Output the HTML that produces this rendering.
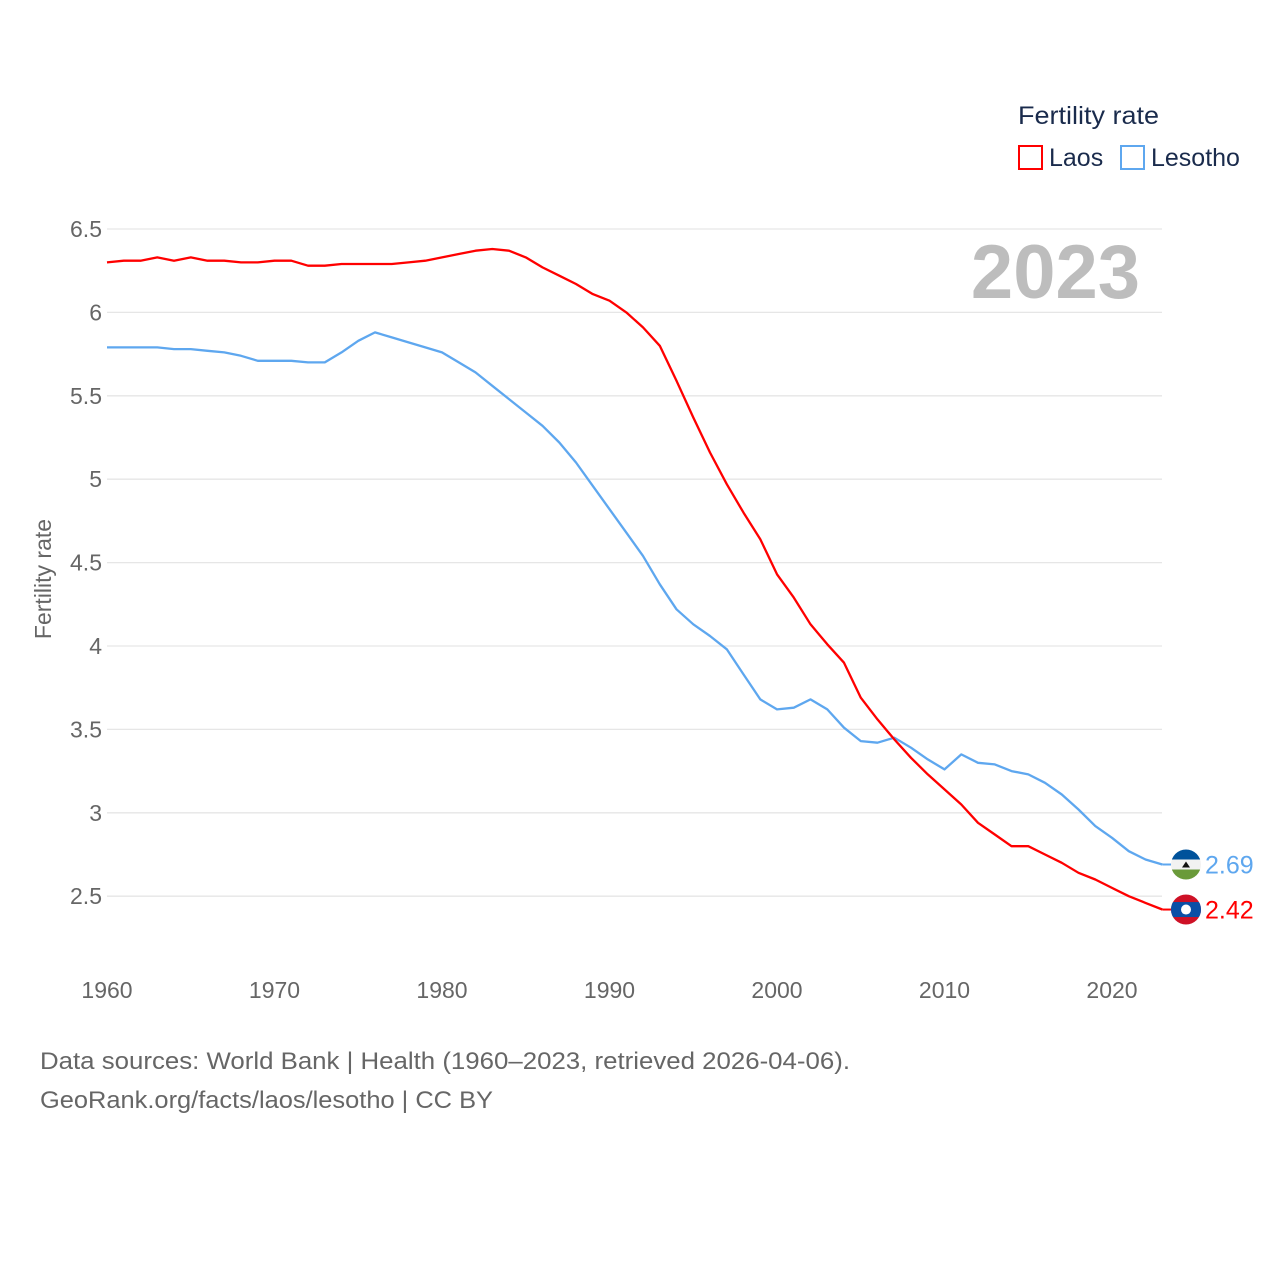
<!DOCTYPE html>
<html><head><meta charset="utf-8"><style>
html,body{margin:0;padding:0;background:#fff;}
body{width:1280px;height:1280px;overflow:hidden;font-family:"Liberation Sans",sans-serif;}
</style></head><body>
<svg id="chart" width="1280" height="1280" xmlns="http://www.w3.org/2000/svg" style="font-family:'Liberation Sans',sans-serif">
<g id="grid"></g>
<g id="yticks"></g>
<g id="xticks"></g>
<text x="51" y="579" transform="rotate(-90 51 579)" text-anchor="middle" font-size="23" fill="#666">Fertility rate</text>
<text x="1140" y="298" text-anchor="end" font-size="76" font-weight="bold" fill="#bdbdbd">2023</text>
<g id="series"></g>
<g>
<text x="1018" y="124" font-size="25" fill="#1a2b4c" textLength="141" lengthAdjust="spacingAndGlyphs">Fertility rate</text>
<g><rect x="1019" y="146" width="23" height="23" fill="none" stroke="#ff0000" stroke-width="2"/><text x="1049" y="166" font-size="25" fill="#1a2b4c">Laos</text></g>
<g><rect x="1121" y="146" width="23" height="23" fill="none" stroke="#5ea7ef" stroke-width="2"/><text x="1151" y="166" font-size="25" fill="#1a2b4c">Lesotho</text></g>
</g>
<text x="40" y="1069" font-size="24" fill="#666" textLength="810" lengthAdjust="spacingAndGlyphs">Data sources: World Bank | Health (1960–2023, retrieved 2026-04-06).</text>
<text x="40" y="1108" font-size="24" fill="#666" textLength="453" lengthAdjust="spacingAndGlyphs">GeoRank.org/facts/laos/lesotho | CC BY</text>
</svg>
<script>
const years=[];for(let y=1960;y<=2023;y++)years.push(y);
const laos=[6.30,6.31,6.31,6.33,6.31,6.33,6.31,6.31,6.30,6.30,6.31,6.31,6.28,6.28,6.29,6.29,6.29,6.29,6.30,6.31,6.33,6.35,6.37,6.38,6.37,6.33,6.27,6.22,6.17,6.11,6.07,6.00,5.91,5.80,5.59,5.37,5.16,4.97,4.80,4.64,4.43,4.29,4.13,4.01,3.90,3.69,3.56,3.44,3.33,3.23,3.14,3.05,2.94,2.87,2.80,2.80,2.75,2.70,2.64,2.60,2.55,2.50,2.46,2.42];
const lesotho=[5.79,5.79,5.79,5.79,5.78,5.78,5.77,5.76,5.74,5.71,5.71,5.71,5.70,5.70,5.76,5.83,5.88,5.85,5.82,5.79,5.76,5.70,5.64,5.56,5.48,5.40,5.32,5.22,5.10,4.96,4.82,4.68,4.54,4.37,4.22,4.13,4.06,3.98,3.83,3.68,3.62,3.63,3.68,3.62,3.51,3.43,3.42,3.45,3.39,3.32,3.26,3.35,3.30,3.29,3.25,3.23,3.18,3.11,3.02,2.92,2.85,2.77,2.72,2.69];
const yTicks=[2.5,3,3.5,4,4.5,5,5.5,6,6.5];
const xTicks=[1960,1970,1980,1990,2000,2010,2020];
const NS="http://www.w3.org/2000/svg";
const X=y=>107+(y-1960)*16.75;
const Y=v=>229+(6.5-v)*166.8;
function mk(t,a,p){const e=document.createElementNS(NS,t);for(const k in a)e.setAttribute(k,a[k]);p.appendChild(e);return e;}
const grid=document.getElementById('grid'),yt=document.getElementById('yticks'),xt=document.getElementById('xticks'),ser=document.getElementById('series');
yTicks.forEach(v=>{
 const l=mk('line',{x1:107,x2:1162,y1:Y(v),y2:Y(v),stroke:'#e6e6e6','stroke-width':1.3},grid);
 
 
 const t=mk('text',{x:102,y:Y(v)+8,'text-anchor':'end','font-size':23,fill:'#666'},yt);
 t.textContent=String(v);
 
 
});
xTicks.forEach(y=>{
 const t=mk('text',{x:X(y),y:998,'text-anchor':'middle','font-size':23,fill:'#666'},xt);
 t.textContent=String(y);
 
 
});
function line(vals,color,name){
 const d=vals.map((v,i)=>(i?'L':'M')+X(years[i]).toFixed(1)+' '+Y(v).toFixed(1)).join(' ');
 const p=mk('path',{d:d,fill:'none',stroke:color,'stroke-width':2.3,'stroke-linejoin':'round'},ser);
 
 
}
line(lesotho,'#5ea7ef','lesotho-line');
line(laos,'#ff0000','laos-line');
function endLabel(vals,color,name,flag){
 const v=vals[vals.length-1],y=Y(v),x=1186;
 const g=mk('g',{},ser);
 
 
 mk('line',{x1:X(2023),x2:x-15,y1:y,y2:y,stroke:color,'stroke-width':2},g);
 const cp='clip-'+name;const c=mk('clipPath',{id:cp},g);mk('circle',{cx:x,cy:y,r:15},c);
 const fg=mk('g',{'clip-path':'url(#'+cp+')'},g);
 if(flag==='ls'){mk('rect',{x:x-15,y:y-15,width:30,height:10,fill:'#00529b'},fg);mk('rect',{x:x-15,y:y-5,width:30,height:10,fill:'#f2f2f2'},fg);mk('rect',{x:x-15,y:y+5,width:30,height:10,fill:'#6a9a3a'},fg);mk('path',{d:`M${x-4} ${y+3} L${x+4} ${y+3} L${x} ${y-3} Z`,fill:'#111'},fg);}
 else{mk('rect',{x:x-15,y:y-15,width:30,height:30,fill:'#ce1126'},fg);mk('rect',{x:x-15,y:y-7.5,width:30,height:15,fill:'#0a4fa6'},fg);mk('circle',{cx:x,cy:y,r:5,fill:'#fff'},fg);}
 const t=mk('text',{x:1205,y:y+9,'font-size':25,fill:color},g);t.textContent=v.toFixed(2);
}
endLabel(lesotho,'#5ea7ef','lesotho-end-label','ls');
endLabel(laos,'#ff0000','laos-end-label','la');
</script>
</body></html>
